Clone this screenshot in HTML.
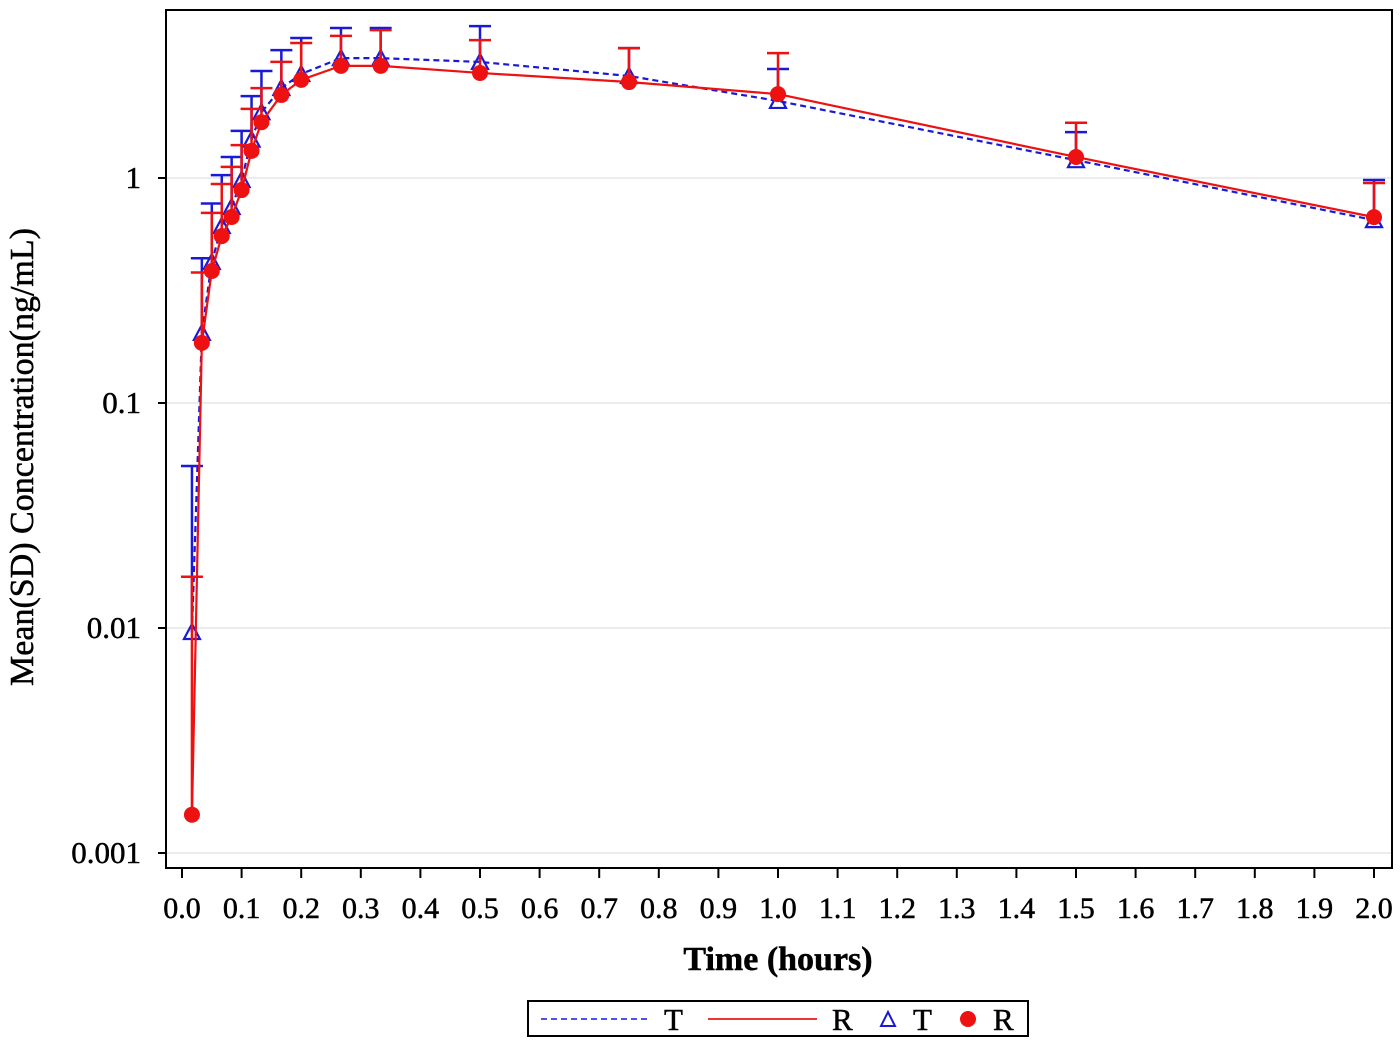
<!DOCTYPE html>
<html><head><meta charset="utf-8"><style>
body{margin:0;background:#fff;}
svg{display:block;font-family:"Liberation Serif",serif;}
svg text{stroke:#000;stroke-width:0.5;}
</style></head><body>
<svg id="c" width="1400" height="1048"></svg>
<script>
const times=[0.0167,0.0333,0.05,0.0667,0.0833,0.1,0.1167,0.1333,0.1667,0.2,0.2667,0.3333,0.5,0.75,1.0,1.5,2.0];
const tMean=[0.0096,0.205,0.423,0.612,0.743,0.98,1.48,1.96,2.51,2.90,3.41,3.41,3.28,2.84,2.20,1.20,0.65];
const tUpper=[0.0525,0.44,0.77,1.03,1.24,1.62,2.31,2.99,3.7,4.19,4.64,4.64,4.73,3.78,3.05,1.6,0.98];
const rMean=[0.00148,0.185,0.386,0.552,0.671,0.884,1.32,1.77,2.34,2.73,3.15,3.15,2.93,2.67,2.36,1.24,0.67];
const rUpper=[0.0169,0.38,0.70,0.94,1.12,1.40,2.03,2.51,3.28,3.98,4.28,4.54,4.1,3.78,3.59,1.76,0.95];
const xTicks=[0,0.1,0.2,0.3,0.4,0.5,0.6,0.7,0.8,0.9,1.0,1.1,1.2,1.3,1.4,1.5,1.6,1.7,1.8,1.9,2.0];
const yTicks=[0.001,0.01,0.1,1];
const yTickLabels=["0.001","0.01","0.1","1"];

const NS="http://www.w3.org/2000/svg";
const svg=document.getElementById('c');
const L=166,R=1392,T=10,B=868;
const X=v=>182+v*596;
const Y=v=>178-Math.log10(v)*225;
function mk(tag,attrs,parent){const e=document.createElementNS(NS,tag);for(const k in attrs)e.setAttribute(k,attrs[k]);(parent||svg).appendChild(e);return e;}

yTicks.forEach((v,i)=>{
  const g=mk('line',{x1:L,x2:R,y1:Y(v),y2:Y(v),stroke:'#e6e6e6','stroke-width':1.5});
  
  
  const t=mk('line',{x1:L-8,x2:L,y1:Y(v),y2:Y(v),stroke:'#000','stroke-width':2});
  
  
  const tx=mk('text',{x:L-25,y:Y(v)+10,'text-anchor':'end','font-size':31,fill:'#000'});
  tx.textContent=yTickLabels[i];
  
  
});
xTicks.forEach(v=>{
  const t=mk('line',{x1:X(v),x2:X(v),y1:B,y2:B+10,stroke:'#000','stroke-width':2});
  
  
  const tx=mk('text',{x:X(v),y:918,'text-anchor':'middle','font-size':30,fill:'#000'});
  tx.textContent=v.toFixed(1);
  
  
});
const fr=mk('rect',{x:L,y:T,width:R-L,height:B-T,fill:'none',stroke:'#000','stroke-width':2});



function series(mean,upper,color,dash,marker,name){
  upper.forEach((u,i)=>{
    const x=X(times[i]);
    const e=mk('line',{x1:x,x2:x,y1:Y(mean[i]),y2:Y(u),stroke:color,'stroke-width':2.5});
    
    
    const c=mk('line',{x1:x-11,x2:x+11,y1:Y(u),y2:Y(u),stroke:color,'stroke-width':2.5});
    
    
  });
  const p=mk('polyline',{points:mean.map((m,i)=>X(times[i])+','+Y(m)).join(' '),fill:'none',stroke:color,'stroke-width':2.2});
  if(dash)p.setAttribute('stroke-dasharray',dash);
  
  
  mean.forEach((m,i)=>{
    const x=X(times[i]),y=Y(m);
    let el;
    if(marker==='tri') el=mk('polygon',{points:`${x},${y-8} ${x-8},${y+7} ${x+8},${y+7}`,fill:'none',stroke:color,'stroke-width':2.2});
    else el=mk('circle',{cx:x,cy:y,r:8,fill:color});
    
    
  });
}
series(tMean,tUpper,'#1a1ad6','6,4','tri','t');
series(rMean,rUpper,'#ee1111',null,'dot','r');

const xt=mk('text',{x:778,y:970,'text-anchor':'middle','font-size':34,'font-weight':'bold',fill:'#000'});
xt.textContent='Time (hours)';


const yt=mk('text',{x:0,y:0,'text-anchor':'middle','font-size':34,fill:'#000',transform:'translate(33,457) rotate(-90)'});
yt.textContent='Mean(SD) Concentration(ng/mL)';



const lg=mk('g',{});


mk('rect',{x:528,y:1001,width:500,height:35,fill:'#fff',stroke:'#000','stroke-width':2},lg);
mk('line',{x1:541,x2:650,y1:1019,y2:1019,stroke:'#5050f0','stroke-width':2,'stroke-dasharray':'6,4'},lg);
const l1=mk('text',{x:664,y:1030,'font-size':31},lg);l1.textContent='T';


mk('line',{x1:708,x2:817,y1:1019,y2:1019,stroke:'#ee3333','stroke-width':2},lg);
const l2=mk('text',{x:832,y:1030,'font-size':31},lg);l2.textContent='R';


mk('polygon',{points:'888,1012 881,1026 895,1026',fill:'none',stroke:'#1a1ad6','stroke-width':2},lg);
const l3=mk('text',{x:913,y:1030,'font-size':31},lg);l3.textContent='T';


mk('circle',{cx:968,cy:1019,r:8,fill:'#ee1111'},lg);
const l4=mk('text',{x:993,y:1030,'font-size':31},lg);l4.textContent='R';


</script>
</body></html>
